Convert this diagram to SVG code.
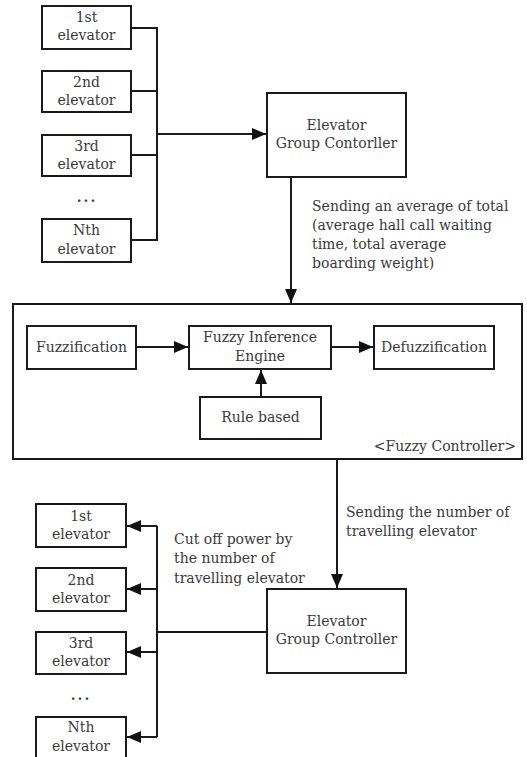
<svg xmlns="http://www.w3.org/2000/svg" width="527" height="757" viewBox="0 0 527 757">
<defs>
<style>
.box{fill:#fff;stroke:#1a1a1a;stroke-width:2}
.frame{fill:none;stroke:#1a1a1a;stroke-width:2}
.ln{fill:none;stroke:#1a1a1a;stroke-width:2}
text{font-family:"DejaVu Serif","Liberation Serif",serif;font-size:14px;fill:#3a3a3a}
.c{text-anchor:middle}
.dots{font-weight:bold;letter-spacing:2px}
</style>
<marker id="ah" markerWidth="14" markerHeight="12" refX="14" refY="6" orient="auto" markerUnits="userSpaceOnUse">
<path d="M0,0 L14,6 L0,12 Z" fill="#111"/>
</marker>
</defs>
<rect width="527" height="757" fill="#fff"/>

<g id="fuzzy-controller"><rect class="frame" x="13" y="304" width="509" height="155"/><text x="516" y="451" text-anchor="end">&lt;Fuzzy Controller&gt;</text></g>

<g id="connectors">
<path class="ln" d="M131,28 H157 V240 H131 M131,91 H157 M131,155 H157"/>
<path class="ln" d="M157,134 H266" marker-end="url(#ah)"/>
<path class="ln" d="M291,177 V303" marker-end="url(#ah)"/>
<path class="ln" d="M136,347 H188" marker-end="url(#ah)"/>
<path class="ln" d="M331,347 H373" marker-end="url(#ah)"/>
<path class="ln" d="M261,397 V370" marker-end="url(#ah)"/>
<path class="ln" d="M337,459 V588" marker-end="url(#ah)"/>
<path class="ln" d="M267,632 H157 M157,526 V737"/>
<path class="ln" d="M157,526 H127" marker-end="url(#ah)"/>
<path class="ln" d="M157,589 H127" marker-end="url(#ah)"/>
<path class="ln" d="M157,652 H127" marker-end="url(#ah)"/>
<path class="ln" d="M157,737 H127" marker-end="url(#ah)"/>
</g>

<g id="top-elev1"><rect class="box" x="42" y="6" width="89" height="43"/><text class="c" x="86.5" y="22">1st</text><text class="c" x="86.5" y="40">elevator</text></g>
<g id="top-elev2"><rect class="box" x="42" y="71" width="89" height="41"/><text class="c" x="86.5" y="87">2nd</text><text class="c" x="86.5" y="105">elevator</text></g>
<g id="top-elev3"><rect class="box" x="42" y="135" width="89" height="41"/><text class="c" x="86.5" y="151">3rd</text><text class="c" x="86.5" y="169">elevator</text></g>
<g id="top-dots"><text class="c dots" x="87" y="202">...</text></g>
<g id="top-elevN"><rect class="box" x="42" y="219" width="89" height="43"/><text class="c" x="86.5" y="235">Nth</text><text class="c" x="86.5" y="254">elevator</text></g>

<g id="controller-top"><rect class="box" x="267" y="93" width="139" height="84"/><text class="c" x="336.5" y="130">Elevator</text><text class="c" x="336.5" y="148">Group Contorller</text></g>

<g id="label-top">
<text x="312" y="211">Sending an average of total</text>
<text x="312" y="230">(average hall call waiting</text>
<text x="312" y="249">time, total average</text>
<text x="312" y="268">boarding weight)</text>
</g>

<g id="fuzzification"><rect class="box" x="27" y="326" width="109" height="43"/><text class="c" x="81.5" y="352">Fuzzification</text></g>
<g id="inference"><rect class="box" x="189" y="326" width="142" height="43"/><text class="c" x="260" y="342">Fuzzy Inference</text><text class="c" x="260" y="361">Engine</text></g>
<g id="defuzzification"><rect class="box" x="374" y="326" width="120" height="43"/><text class="c" x="434" y="352">Defuzzification</text></g>
<g id="rule-based"><rect class="box" x="200" y="397" width="121" height="42"/><text class="c" x="260.5" y="422">Rule based</text></g>

<g id="label-mid">
<text x="346" y="517">Sending the number of</text>
<text x="346" y="536">travelling elevator</text>
</g>
<g id="label-cut">
<text x="174" y="544">Cut off power by</text>
<text x="174" y="563">the number of</text>
<text x="174" y="583">travelling elevator</text>
</g>

<g id="controller-bottom"><rect class="box" x="267" y="589" width="139" height="84"/><text class="c" x="336.5" y="626">Elevator</text><text class="c" x="336.5" y="644">Group Controller</text></g>

<g id="bot-elev1"><rect class="box" x="36" y="504" width="90" height="43"/><text class="c" x="81" y="521">1st</text><text class="c" x="81" y="539">elevator</text></g>
<g id="bot-elev2"><rect class="box" x="36" y="568" width="90" height="43"/><text class="c" x="81" y="585">2nd</text><text class="c" x="81" y="603">elevator</text></g>
<g id="bot-elev3"><rect class="box" x="36" y="632" width="90" height="42"/><text class="c" x="81" y="648">3rd</text><text class="c" x="81" y="666">elevator</text></g>
<g id="bot-dots"><text class="c dots" x="81" y="700">...</text></g>
<g id="bot-elevN"><rect class="box" x="36" y="717" width="90" height="45"/><text class="c" x="81" y="732">Nth</text><text class="c" x="81" y="751">elevator</text></g>
</svg>
